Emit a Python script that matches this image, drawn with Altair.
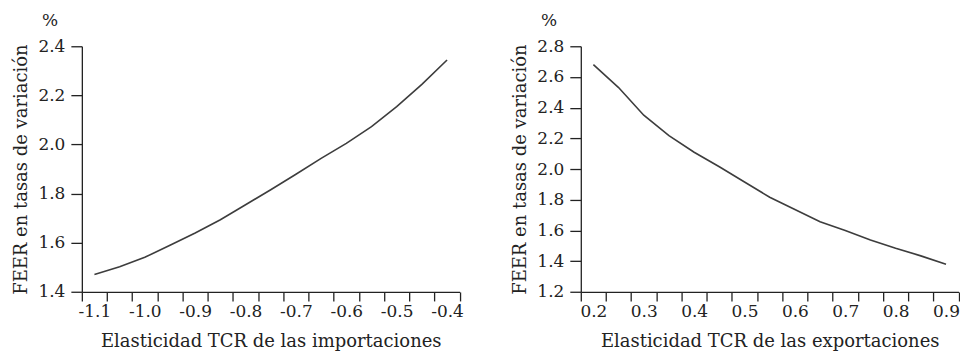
import altair as alt
import pandas as pd

# Left panel: import elasticity
imp_x = [-1.10, -1.05, -1.00, -0.95, -0.90, -0.85, -0.80, -0.75,
         -0.70, -0.65, -0.60, -0.55, -0.50, -0.45, -0.40]
imp_y = [1.471, 1.503, 1.541, 1.590, 1.640, 1.694, 1.755, 1.816,
         1.879, 1.944, 2.005, 2.073, 2.154, 2.245, 2.344]

# Right panel: export elasticity
exp_x = [0.20, 0.25, 0.30, 0.35, 0.40, 0.45, 0.50, 0.55,
         0.60, 0.65, 0.70, 0.75, 0.80, 0.85, 0.90]
exp_y = [2.681, 2.531, 2.351, 2.218, 2.110, 2.015, 1.916, 1.817,
         1.737, 1.657, 1.601, 1.539, 1.485, 1.435, 1.381]

imp_yticks = [1.4, 1.6, 1.8, 2.0, 2.2, 2.4]
exp_yticks = [1.2, 1.4, 1.6, 1.8, 2.0, 2.2, 2.4, 2.6, 2.8]

y_title = "FEER en tasas de variación"
x_title_imp = "Elasticidad TCR de las importaciones"
x_title_exp = "Elasticidad TCR de las exportaciones"

FONT = "DejaVu Serif"
INK = "#222222"
LINE = "#3d3d3d"

label_expr = ("abs(round(datum.value*100)) % 10 == 0 ? "
              "(datum.value < 0 ? '-' : '') + format(abs(datum.value), '.1f') : ''")


def panel(xs, ys, yticks, xtitle):
    df = pd.DataFrame({"x": xs, "y": ys})
    return alt.Chart(df, title=alt.TitleParams(
        "%", anchor="start", frame="group", dx=-40, offset=7,
        font=FONT, fontSize=17, fontWeight="normal", color=INK)
    ).mark_line(color=LINE, strokeWidth=1.6).encode(
        x=alt.X("x:O",
                scale=alt.Scale(type="band", paddingInner=0, paddingOuter=0),
                axis=alt.Axis(title=xtitle, labelExpr=label_expr, labelAngle=0,
                              labelOverlap=False, tickBand="extent",
                              tickSize=9, labelPadding=3, titlePadding=13)),
        y=alt.Y("y:Q",
                scale=alt.Scale(domain=[yticks[0], yticks[-1]], nice=False, zero=False),
                axis=alt.Axis(title=y_title, values=yticks, format=".1f",
                              tickSize=11, labelPadding=6, titlePadding=7)),
    ).properties(width=378.6, height=246.2)


left = panel(imp_x, imp_y, imp_yticks, x_title_imp)
right = panel(exp_x, exp_y, exp_yticks, x_title_exp)

chart = alt.hconcat(left, right, spacing=47).properties(
    padding={"left": 4, "top": 4, "right": 0, "bottom": 0}
).configure_view(stroke=None).configure_axis(
    grid=False,
    domainColor=INK, tickColor=INK, domainWidth=1.3, tickWidth=1.3,
    labelFont=FONT, labelFontSize=17, labelColor=INK,
    titleFont=FONT, titleFontSize=18, titleFontWeight="normal", titleColor=INK,
)

chart.save("out.html", embed_options={"renderer": "svg", "actions": False})
